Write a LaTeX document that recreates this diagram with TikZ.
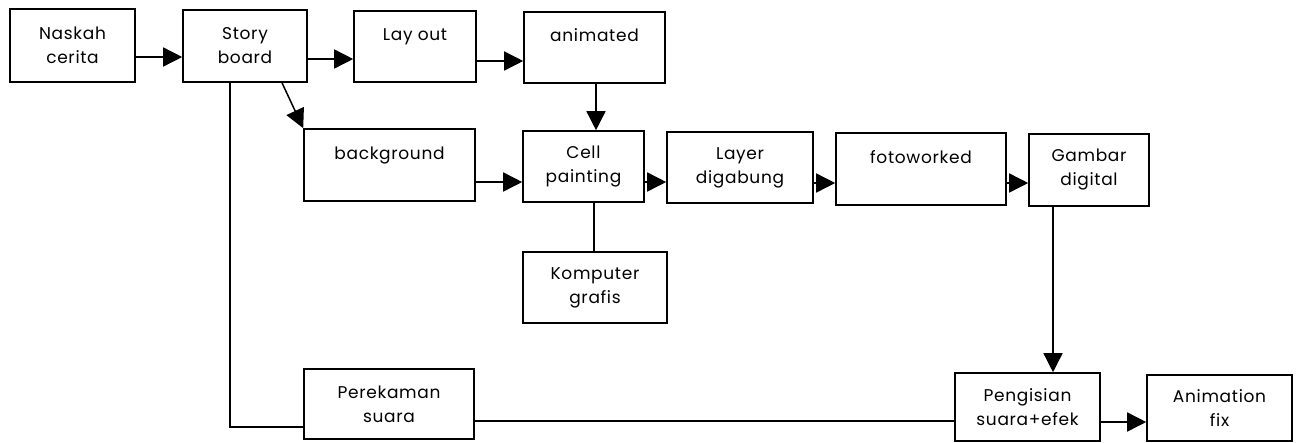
\documentclass[tikz,border=0pt]{standalone}
\usepackage{fontspec}
\setmainfont{Poppins}[LetterSpace=4]
\usetikzlibrary{arrows.meta}
\begin{document}
\begin{tikzpicture}[x=1pt,y=-1pt,
  box/.style={draw, line width=1.6pt, inner sep=0pt, align=center, font=\fontsize{17}{24}\selectfont},
  arr/.style={line width=1.5pt, -{Triangle[length=19pt,width=19pt]}},
  ln/.style={line width=1.5pt}]
\useasboundingbox (0,0) rectangle (1300,442);
\fill[white] (0,0) rectangle (1300,442);
% row 1
\node[box, minimum width=125pt, minimum height=73pt] (nas) at (72.5,45.5) {Naskah\\cerita};
\node[box, minimum width=124pt, minimum height=72pt] (sto) at (245,46) {Story\\board};
\node[box, minimum width=122pt, minimum height=71pt] (lay) at (415,46.5) {Lay out\\\mbox{}};
\node[box, minimum width=141pt, minimum height=71pt] (ani) at (594.5,47.5) {animated\\\mbox{}};
% row 2
\node[box, minimum width=171pt, minimum height=72pt] (bg) at (389.5,165) {background\\\mbox{}};
\node[box, minimum width=121pt, minimum height=71pt] (cel) at (583.5,166.5) {Cell\\painting};
\node[box, minimum width=146pt, minimum height=71pt] (lyr) at (740,167.5) {Layer\\digabung};
\node[box, minimum width=170pt, minimum height=72pt] (fot) at (921,169) {fotoworked\\\mbox{}};
\node[box, minimum width=120pt, minimum height=72pt] (gam) at (1089,170) {Gambar\\digital};
% row 3
\node[box, minimum width=144pt, minimum height=71pt] (kom) at (595,287.5) {Komputer\\grafis};
% row 4
\node[box, minimum width=170pt, minimum height=70pt] (per) at (389,404) {Perekaman\\suara};
\node[box, minimum width=145pt, minimum height=68pt] (pen) at (1027.5,407) {Pengisian\\suara+efek};
\node[box, minimum width=145pt, minimum height=66pt] (anf) at (1219.5,408) {Animation\\fix};
% connectors
\draw[arr] (nas.east |- 0,57) -- (sto.west |- 0,57);
\draw[arr] (sto.east |- 0,59) -- (lay.west |- 0,59);
\draw[arr] (lay.east |- 0,61) -- (ani.west |- 0,61);
\draw[arr] (sto.south -| 282,0) -- (bg.north west);
\draw[ln] (sto.south -| 230,0) |- (per.west |- 0,427);
\draw[arr] (ani.south -| 596,0) -- (cel.north -| 596,0);
\draw[arr] (bg.east |- 0,182) -- (cel.west |- 0,182);
\draw[arr] (cel.east |- 0,182) -- (lyr.west |- 0,182);
\draw[arr] (lyr.east |- 0,183) -- (fot.west |- 0,183);
\draw[arr] (fot.east |- 0,183) -- (gam.west |- 0,183);
\draw[ln] (cel.south -| 594,0) -- (kom.north -| 594,0);
\draw[arr] (gam.south -| 1053,0) -- (pen.north -| 1053,0);
\draw[ln] (per.east |- 0,421) -- (pen.west |- 0,421);
\draw[arr] (pen.east |- 0,422) -- (anf.west |- 0,422);
\end{tikzpicture}
\end{document}
